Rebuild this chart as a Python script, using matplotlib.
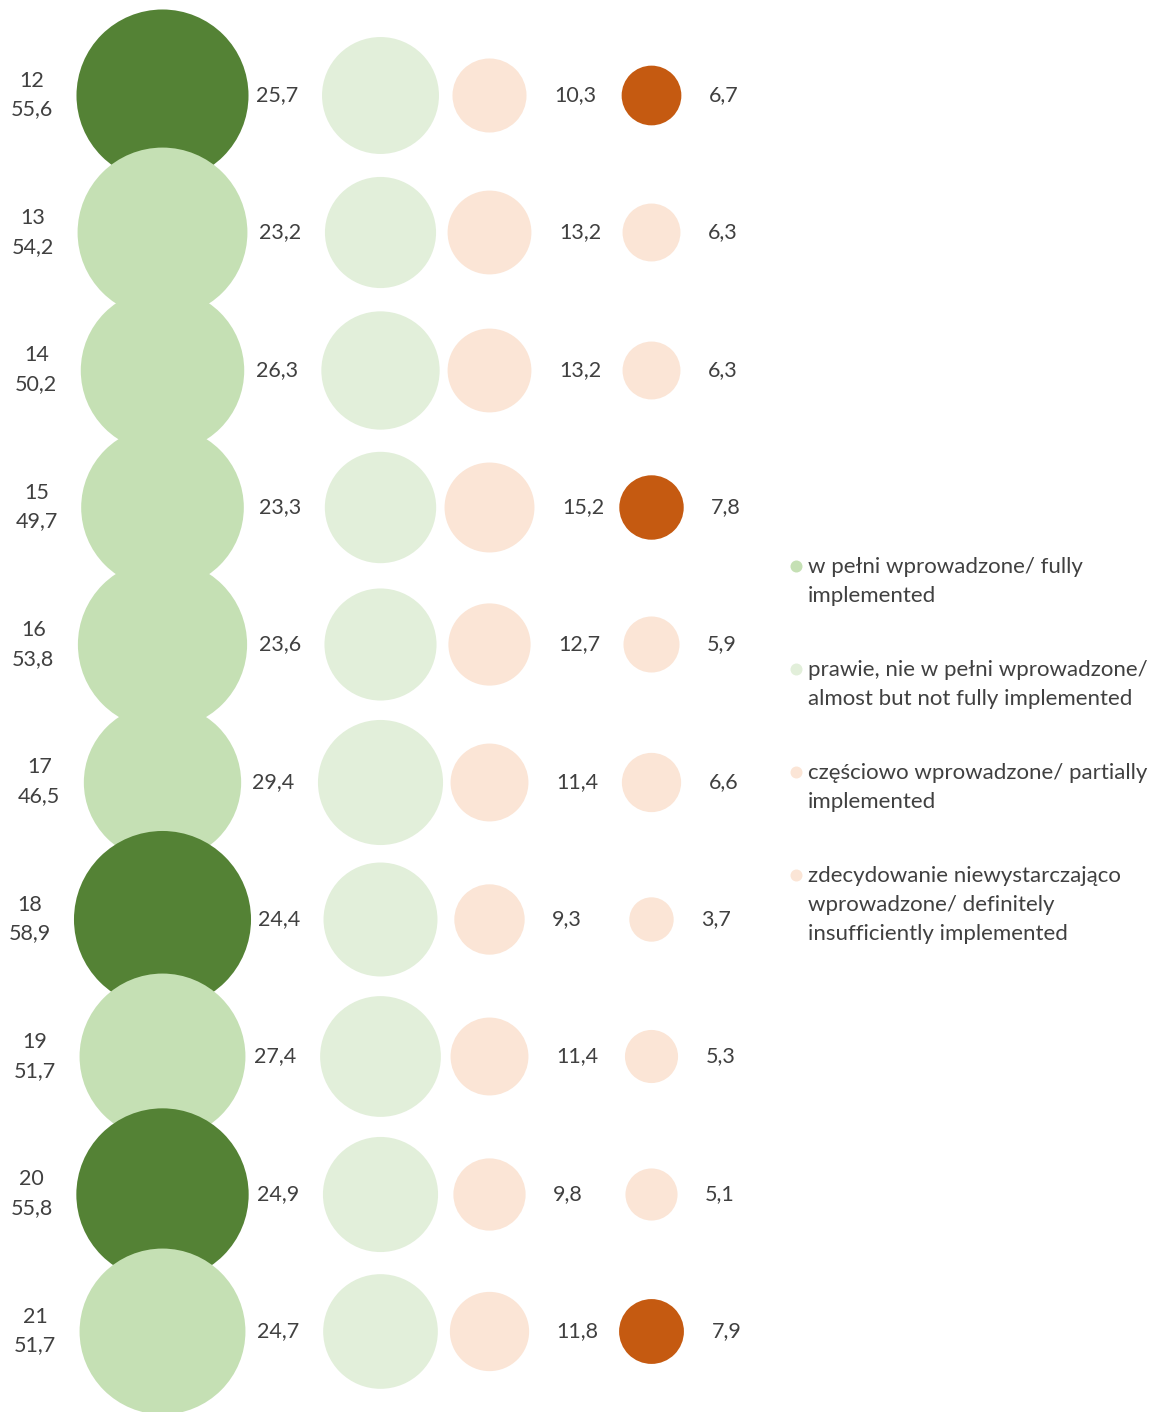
import matplotlib.pyplot as plt

# dane
wiersze = ['12', '13', '14', '15', '16', '17', '18', '19', '20', '21']
pelne = [55.6, 54.2, 50.2, 49.7, 53.8, 46.5, 58.9, 51.7, 55.8, 51.7]
prawie = [25.7, 23.2, 26.3, 23.3, 23.6, 29.4, 24.4, 27.4, 24.9, 24.7]
czesciowo = [10.3, 13.2, 13.2, 15.2, 12.7, 11.4, 9.3, 11.4, 9.8, 11.8]
niewyst = [6.7, 6.3, 6.3, 7.8, 5.9, 6.6, 3.7, 5.3, 5.1, 7.9]
wyr_pelne = ['12', '18', '20']
wyr_niewyst = ['12', '15', '21']
legenda = ['w pełni wprowadzone/ fully\nimplemented',
           'prawie, nie w pełni wprowadzone/\nalmost but not fully implemented',
           'częściowo wprowadzone/ partially\nimplemented',
           'zdecydowanie niewystarczająco\nwprowadzone/ definitely\ninsufficiently implemented']

# kolory
c_pelne, c_pelne_dark = '#C5E0B4', '#548235'
c_prawie = '#E2EFDA'
c_czesc = '#FBE5D6'
c_dark_or = '#C55A11'
txt = '#404040'

plt.rcParams['font.family'] = ['Lato', 'DejaVu Sans']

W, H = 1153, 1412
fig = plt.figure(figsize=(W / 100, H / 100), dpi=100)
ax = fig.add_axes([0, 0, 1, 1])
ax.set_xlim(0, W)
ax.set_ylim(H, 0)
ax.axis('off')

col_x = [162, 380, 489, 651]
y0, dy = 95, 137.33
k = 23.07  # srednica px na sqrt(wartosc)
px2pt = 0.72


def size(v):
    return (k * v ** 0.5 * px2pt) ** 2


def diam(v):
    return k * v ** 0.5


def fmt(v):
    return f'{v:.1f}'.replace('.', ',')


fs = 15.5
for i, w in enumerate(wiersze):
    y = y0 + i * dy
    kol1 = c_pelne_dark if w in wyr_pelne else c_pelne
    kol4 = c_dark_or if w in wyr_niewyst else c_czesc
    ax.scatter([col_x[0]], [y], s=size(pelne[i]), color=kol1, lw=0, zorder=2 + i)
    ax.scatter([col_x[1]], [y], s=size(prawie[i]), color=c_prawie, lw=0, zorder=2)
    ax.scatter([col_x[2]], [y], s=size(czesciowo[i]), color=c_czesc, lw=0, zorder=2)
    ax.scatter([col_x[3]], [y], s=size(niewyst[i]), color=kol4, lw=0, zorder=2)

    lx = col_x[0] - diam(pelne[i]) / 2 - 44
    ax.text(lx, y, w + '\n' + fmt(pelne[i]), ha='center', va='center',
            fontsize=fs, color=txt, linespacing=1.55, zorder=20)
    ax.text(col_x[1] - diam(prawie[i]) / 2 - 23, y, fmt(prawie[i]),
            ha='right', va='center', fontsize=fs, color=txt, zorder=20)
    ax.text(col_x[2] + diam(czesciowo[i]) / 2 + 28, y, fmt(czesciowo[i]),
            ha='left', va='center', fontsize=fs, color=txt, zorder=20)
    ax.text(col_x[3] + diam(niewyst[i]) / 2 + 28, y, fmt(niewyst[i]),
            ha='left', va='center', fontsize=fs, color=txt, zorder=20)

# legenda
leg_kol = [c_pelne, c_prawie, c_czesc, c_czesc]
leg_y = [566, 669, 772, 875]
for t, c, ly in zip(legenda, leg_kol, leg_y):
    ax.scatter([796], [ly], s=(12 * px2pt) ** 2, color=c, lw=0)
    ax.text(808, ly - 9, t, ha='left', va='top', fontsize=16, color=txt, linespacing=1.55)

fig.savefig('out.png', dpi=100)
